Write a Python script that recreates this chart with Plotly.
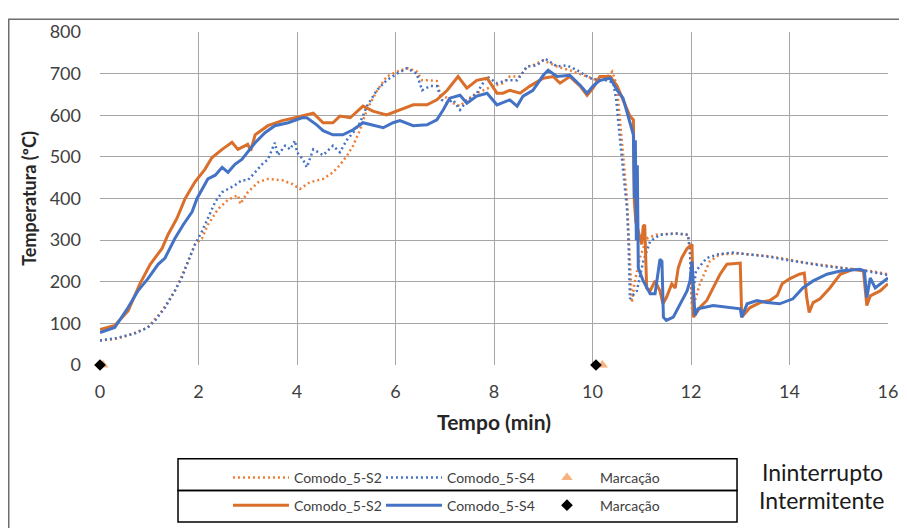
import plotly.graph_objects as go

# ---------------- data ----------------
# Intermitente - Comodo_5-S2 (solid orange)
int_s2_t = [0,0.3,0.57,0.81,1.02,1.26,1.38,1.56,1.73,1.93,2.13,2.27,2.48,2.68,2.8,3.0,3.06,3.15,3.41,3.7,3.96,4.1,4.33,4.53,4.73,4.87,5.08,5.34,5.54,5.82,6.09,6.36,6.64,6.84,7.05,7.27,7.45,7.65,7.86,8.06,8.18,8.32,8.53,8.73,9.0,9.2,9.34,9.54,9.75,9.89,10.01,10.15,10.36,10.5,10.62,10.76,10.83,10.85,10.88,10.93,11.0,11.03,11.06,11.1,11.17,11.27,11.37,11.43,11.5,11.61,11.68,11.74,11.81,11.92,11.98,12.02,12.05,12.18,12.32,12.45,12.59,12.73,12.93,13.0,13.03,13.2,13.4,13.6,13.75,13.85,14.0,14.2,14.3,14.35,14.4,14.48,14.62,14.82,15.03,15.29,15.5,15.57,15.64,15.84,16.0]
int_s2_v = [85,95,130,195,242,280,313,352,400,440,470,498,518,535,518,530,515,553,575,587,594,598,605,582,582,598,594,622,610,601,613,625,625,637,660,693,665,684,689,653,653,660,653,670,689,693,677,693,670,648,665,693,693,670,637,598,589,392,344,320,290,333,337,185,178,202,178,147,162,195,185,233,257,280,285,290,115,138,155,185,218,242,245,245,115,138,150,155,167,195,207,218,221,162,126,150,159,185,218,230,226,143,166,178,195]

# Intermitente - Comodo_5-S4 (solid blue)
int_s4_t = [0,0.3,0.57,0.77,0.97,1.18,1.32,1.52,1.69,1.87,1.97,2.07,2.19,2.34,2.48,2.6,2.74,2.88,3.0,3.15,3.35,3.55,3.82,4.1,4.2,4.4,4.53,4.73,4.93,5.14,5.34,5.54,5.75,5.95,6.09,6.36,6.64,6.84,6.97,7.1,7.31,7.45,7.65,7.86,8.06,8.32,8.47,8.59,8.79,9.0,9.1,9.28,9.54,9.75,9.89,10.01,10.15,10.36,10.5,10.62,10.76,10.83,10.85,10.87,10.89,10.91,10.93,11.03,11.17,11.27,11.37,11.41,11.44,11.5,11.64,11.78,11.92,11.98,12.02,12.08,12.14,12.45,12.8,13.0,13.03,13.14,13.34,13.54,13.8,14.07,14.27,14.48,14.76,15.03,15.43,15.52,15.57,15.64,15.74,15.84,16.0]
int_s4_v = [78,90,138,178,207,242,257,304,337,368,400,423,447,456,475,463,482,494,511,534,558,575,582,594,594,577,563,553,553,565,582,577,570,582,587,575,577,589,613,641,648,629,646,653,625,637,622,646,660,696,708,693,696,672,653,670,684,689,660,641,582,553,400,540,300,480,233,202,171,171,254,249,115,107,115,147,178,202,249,119,135,143,138,135,115,147,155,150,147,159,185,202,218,226,230,226,162,209,185,195,209]

# Ininterrupto - Comodo_5-S2 (dotted orange)
un_s2_t = [0,0.3,0.57,0.97,1.26,1.52,1.73,1.93,2.07,2.19,2.4,2.6,2.8,2.85,3.0,3.21,3.41,3.7,3.9,4.06,4.26,4.53,4.73,4.87,5.02,5.14,5.28,5.42,5.62,5.82,6.09,6.26,6.43,6.54,6.7,6.84,6.9,7.05,7.17,7.31,7.45,7.65,7.78,7.98,8.18,8.32,8.53,8.67,8.79,9.0,9.28,9.54,9.89,10.09,10.3,10.4,10.5,10.52,10.6,10.66,10.7,10.74,10.77,10.8,10.85,10.96,11.1,11.3,11.64,11.94,11.98,12.02,12.18,12.38,12.59,12.86,13.0,13.14,13.6,13.95,14.35,14.82,15.29,15.64,16.0]
un_s2_v = [59,62,71,90,130,178,233,290,304,337,375,397,408,387,415,439,447,444,435,423,439,447,463,480,504,527,565,613,658,693,708,713,705,684,684,682,653,641,629,622,637,653,660,670,677,693,693,717,720,732,717,708,693,684,693,705,670,637,534,456,400,300,218,150,195,257,304,313,316,313,273,130,195,249,266,268,268,266,261,254,245,238,230,226,218]

# Ininterrupto - Comodo_5-S4 (dotted blue)
un_s4_t = [0,0.3,0.71,0.97,1.12,1.32,1.52,1.66,1.79,1.93,2.07,2.19,2.34,2.48,2.6,2.74,2.88,3.0,3.15,3.29,3.41,3.55,3.61,3.76,3.86,3.96,4.0,4.12,4.2,4.33,4.53,4.73,4.87,5.02,5.14,5.28,5.42,5.62,5.82,6.03,6.23,6.43,6.54,6.7,6.84,6.94,7.05,7.17,7.31,7.45,7.65,7.86,8.06,8.26,8.47,8.67,8.87,9.04,9.28,9.48,9.69,9.95,10.15,10.32,10.42,10.48,10.55,10.6,10.64,10.7,10.73,10.76,10.9,11.03,11.17,11.37,11.71,11.94,11.98,12.02,12.1,12.32,12.55,12.86,13.14,13.6,13.95,14.35,14.82,15.29,15.64,16.0]
un_s4_v = [59,64,76,90,107,138,178,209,249,290,321,352,392,415,423,432,444,444,463,482,494,534,504,527,518,539,511,494,475,518,504,527,511,542,558,582,622,660,684,700,713,700,660,670,670,637,629,637,613,634,653,693,677,684,684,717,720,736,717,720,708,689,684,684,677,640,551,487,440,375,300,159,178,249,297,313,316,313,270,150,226,257,266,270,266,260,252,244,236,230,224,216]

# Marcação markers
mark_un_t = [0.06, 10.2]
mark_un_v = [0, 0]
mark_int_t = [0, 10.07]
mark_int_v = [0, 0]

x_ticks = [0, 2, 4, 6, 8, 10, 12, 14, 16]
y_ticks = [0, 100, 200, 300, 400, 500, 600, 700, 800]

ORANGE = "#D96F2B"
ORANGE_DOT = "#EE7D33"
BLUE = "#4472C4"
FONT = "Lato"

fig = go.Figure()

fig.add_trace(go.Scatter(x=un_s2_t, y=un_s2_v, mode="lines", name="Comodo_5-S2",
                         line=dict(color=ORANGE_DOT, width=2.5, dash="2px,3px"), legend="legend"))
fig.add_trace(go.Scatter(x=un_s4_t, y=un_s4_v, mode="lines", name="Comodo_5-S4",
                         line=dict(color=BLUE, width=2.5, dash="2px,3px"), legend="legend"))
fig.add_trace(go.Scatter(x=mark_un_t, y=mark_un_v, mode="markers", name="Marcação",
                         marker=dict(symbol="triangle-up", size=10, color="#F6B27F"),
                         cliponaxis=False, legend="legend"))
fig.add_trace(go.Scatter(x=int_s2_t, y=int_s2_v, mode="lines", name="Comodo_5-S2",
                         line=dict(color=ORANGE, width=3), legend="legend2"))
fig.add_trace(go.Scatter(x=int_s4_t, y=int_s4_v, mode="lines", name="Comodo_5-S4",
                         line=dict(color=BLUE, width=3), legend="legend2"))
fig.add_trace(go.Scatter(x=mark_int_t, y=mark_int_v, mode="markers", name="Marcação",
                         marker=dict(symbol="diamond", size=9, color="#000000"),
                         cliponaxis=False, legend="legend2"))

legend_common = dict(orientation="h", xanchor="left", yanchor="top", x=0.1624,
                     itemwidth=56, entrywidth=82, entrywidthmode="pixels",
                     font=dict(family=FONT, size=14, color="#404040"),
                     bgcolor="rgba(0,0,0,0)", borderwidth=0, traceorder="normal")

fig.update_layout(
    width=907, height=528,
    margin=dict(l=92, r=27, t=20, b=171),
    paper_bgcolor="white", plot_bgcolor="white",
    font=dict(family=FONT, color="#404040"),
    showlegend=True,
    legend=dict(**legend_common, y=-0.291),
    legend2=dict(**legend_common, y=-0.374),
    xaxis=dict(range=[0, 16], tickvals=x_ticks, ticktext=[str(v) for v in x_ticks],
               showgrid=True, gridcolor="#A6A6A6", gridwidth=1, zeroline=False,
               showline=False, ticks="", ticklabelstandoff=14,
               tickfont=dict(family=FONT, size=18, color="#404040"),
               title=dict(text="<b>Tempo (min)</b>", standoff=14,
                          font=dict(family=FONT, size=21, color="#262626"))),
    yaxis=dict(range=[0, 800], tickvals=y_ticks, ticktext=[str(v) for v in y_ticks],
               showgrid=True, gridcolor="#A6A6A6", gridwidth=1, zeroline=False,
               showline=False, ticks="", ticklabelstandoff=18,
               tickfont=dict(family=FONT, size=18, color="#404040"),
               title=dict(text="<b>Temperatura (ºC)</b>", standoff=8,
                          font=dict(family=FONT, size=18, color="#262626"))),
    shapes=[
        dict(type="rect", xref="paper", yref="paper", x0=-0.1158, x1=1.2, y0=-0.7, y1=1.0386,
             line=dict(color="#6E6E6E", width=1.5), fillcolor="rgba(0,0,0,0)", layer="below"),
        dict(type="rect", xref="paper", yref="paper", x0=0.099, x1=0.8084, y0=-0.3769, y1=-0.2819,
             line=dict(color="#000000", width=1.5), fillcolor="rgba(0,0,0,0)"),
        dict(type="rect", xref="paper", yref="paper", x0=0.099, x1=0.8084, y0=-0.4718, y1=-0.3769,
             line=dict(color="#000000", width=1.5), fillcolor="rgba(0,0,0,0)"),
    ],
    annotations=[
        dict(text="Ininterrupto", xref="paper", yref="paper", x=0.838, y=-0.3205,
             xanchor="left", yanchor="middle", showarrow=False,
             font=dict(family=FONT, size=23, color="#1A1A1A")),
        dict(text="Intermitente", xref="paper", yref="paper", x=0.834, y=-0.406,
             xanchor="left", yanchor="middle", showarrow=False,
             font=dict(family=FONT, size=23, color="#1A1A1A")),
    ],
)

fig.write_html("out.html")
